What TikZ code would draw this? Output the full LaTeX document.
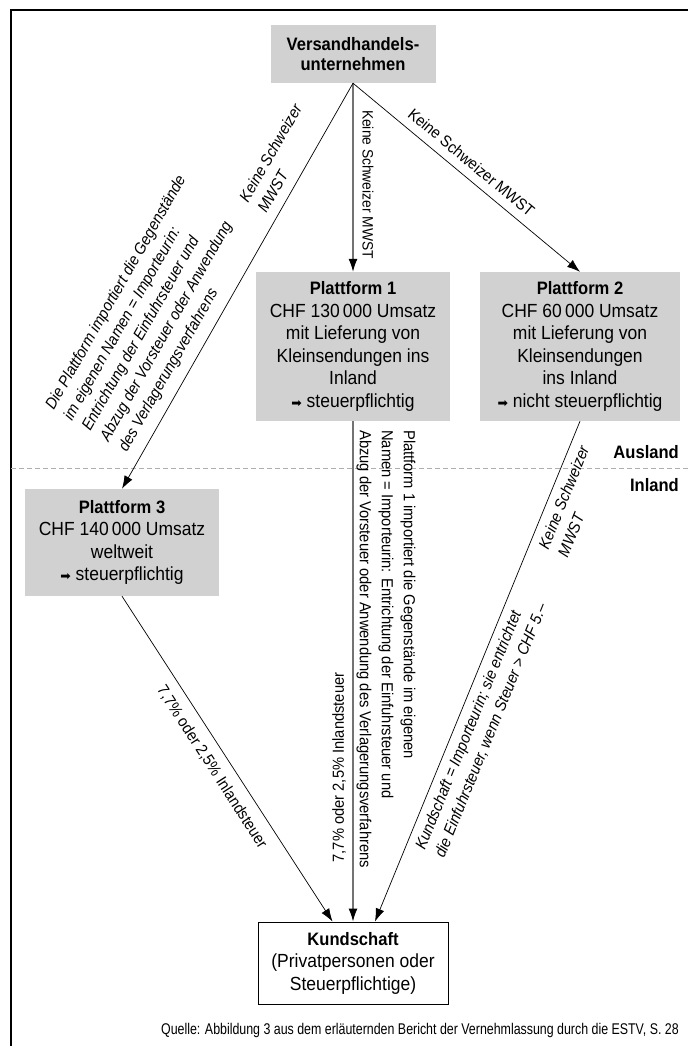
\documentclass[tikz,border=0pt]{standalone}
\usepackage{fontspec}
\setmainfont[FakeStretch=0.92]{Liberation Sans}
\newfontfamily\qfont[FakeStretch=0.8]{Liberation Sans}
\newfontfamily\symfont{DejaVu Sans}
\usetikzlibrary{arrows.meta}
\definecolor{boxgray}{RGB}{209,209,209}
\definecolor{dashgray}{RGB}{175,175,175}
\definecolor{midgray}{RGB}{115,115,115}
\newcommand{\arw}{{\symfont\fontsize{12.5}{12.5}\selectfont ➡}}
\newcommand{\ttlfont}{\bfseries\fontsize{18}{22.5}\selectfont}
\begin{document}
\begin{tikzpicture}[x=1pt,y=-1pt,
  box/.style={fill=boxgray, align=center, inner sep=0pt, font=\fontsize{19}{22.5}\selectfont},
  lbl/.style={inner sep=0pt, font=\fontsize{16}{21}\selectfont},
  ilbl/.style={inner sep=0pt, align=left, font=\itshape\fontsize{16}{21}\selectfont},
  arr/.style={line width=0.7pt, -{Latex[length=13pt,width=9pt]}},
  garr/.style={line width=1.2pt, draw=midgray, -{Latex[length=13pt,width=9pt,color=black]}}]
\useasboundingbox (0,0) rectangle (688,1046);
\fill[white] (0,0) rectangle (688,1046);
% frame
\draw[line width=1.3pt] (11,1046) -- (11,10) -- (688,10);
% Ausland / Inland separator
\draw[dashgray, line width=0.8pt, dash pattern=on 5pt off 3pt] (11,468) -- (688,468);
\node[anchor=east, inner sep=0pt, font=\ttlfont] (ausland) at (679,452) {Ausland};
\node[anchor=east, inner sep=0pt, font=\ttlfont] (inland) at (679,485) {Inland};

% boxes
\node[box, minimum width=165pt, minimum height=58pt, font=\bfseries\fontsize{18}{20.5}\selectfont] (top) at (353,54) {Versandhandels-\\unternehmen};
\node[box, minimum width=194pt, minimum height=149pt] (p1) at (353,346.5) {{\ttlfont Plattform 1}\\CHF 130\,000 Umsatz\\mit Lieferung von\\Kleinsendungen ins\\Inland\\\arw\ steuerpflichtig};
\node[box, minimum width=200pt, minimum height=149pt] (p2) at (580,346.5) {{\ttlfont Plattform 2}\\CHF 60\,000 Umsatz\\mit Lieferung von\\Kleinsendungen\\ins Inland\\\arw\ nicht steuerpflichtig};
\node[box, minimum width=194pt, minimum height=107pt] (p3) at (122,542.5) {{\ttlfont Plattform 3}\\CHF 140\,000 Umsatz\\weltweit\\\arw\ steuerpflichtig};
\node[draw, line width=1pt, fill=white, align=center, inner sep=0pt, minimum width=190pt, minimum height=82pt, font=\fontsize{19}{22.5}\selectfont] (kund) at (353,963) {{\ttlfont Kundschaft}\\(Privatpersonen oder\\Steuerpflichtige)};

% connectors
\draw[garr] (top.south) -- (p1.north);
\draw[arr] (top.south) -- (p2.north);
\draw[arr] (top.south) -- (p3.north);
\draw[arr] (p3.south) -- ([xshift=-20.5pt]kund.north);
\draw[garr] (p1.south) -- (kund.north);
\draw[arr] (p2.south) -- ([xshift=22pt]kund.north);

% labels
\node[lbl, rotate=-90, font=\fontsize{15}{20}\selectfont] (lD) at (368,184.5) {Keine Schweizer MWST};
\node[lbl, rotate=-39.8] (lC) at (471.5,162.5) {Keine Schweizer MWST};
\node[ilbl, rotate=60.3, anchor=west] (lA) at (252.3,206) {Keine Schweizer\\MWST};
\node[ilbl, rotate=60.3, anchor=west] (lB) at (86.6,429.9) {Die Plattform importiert die Gegenstände\\im eigenen Namen = Importeurin:\\Entrichtung der Einfuhrsteuer und\\Abzug der Vorsteuer oder Anwendung\\des Verlagerungsverfahrens};
\node[lbl, rotate=90] (lE) at (339,767.5) {7,7\% oder 2,5\% Inlandsteuer};
\node[lbl, rotate=-90, anchor=west, align=left, font=\fontsize{16}{22}\selectfont] (lF) at (386,430) {Plattform 1 importiert die Gegenstände im eigenen\\Namen = Importeurin: Entrichtung der Einfuhrsteuer und\\Abzug der Vorsteuer oder Anwendung des Verlagerungsverfahrens};
\node[lbl, rotate=-57.2] (lG) at (212,767) {7,7\% oder 2,5\% Inlandsteuer};
\node[ilbl, rotate=67.85, anchor=west] (lH) at (552.6,552.3) {Keine Schweizer\\MWST};
\node[ilbl, rotate=67.85, anchor=west] (lI) at (430,853.3) {Kundschaft = Importeurin; sie entrichtet\\die Einfuhrsteuer, wenn Steuer > CHF 5.–};

% source
\node[anchor=east, inner sep=0pt, font=\qfont\fontsize{15.5}{18}\selectfont] (quelle) at (679,1030) {Quelle: Abbildung 3 aus dem erläuternden Bericht der Vernehmlassung durch die ESTV, S.~28};
\end{tikzpicture}
\end{document}
